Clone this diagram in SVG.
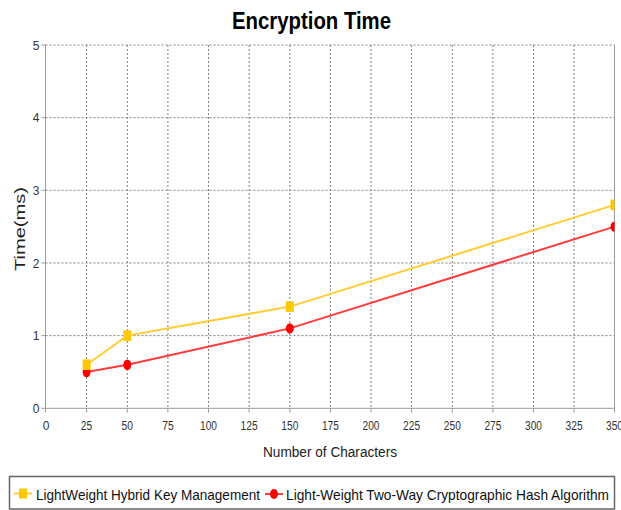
<svg xmlns="http://www.w3.org/2000/svg" width="621" height="510" viewBox="0 0 621 510">
  <style>
    .grid { stroke: #808080; stroke-width: 1; stroke-dasharray: 2 2; fill: none; }
    .axis { stroke: #9a9a9a; stroke-width: 1; fill: none; }
    .tick { font-family: "Liberation Sans", Arial, sans-serif; font-size: 12px; fill: #333; }
    .lbl { font-family: "Liberation Sans", Arial, sans-serif; font-size: 14px; fill: #222; }
    .legend { font-family: "Liberation Sans", Arial, sans-serif; font-size: 15px; fill: #111; }
    .lineY { stroke: #ffcc33; stroke-width: 2; fill: none; }
    .lineR { stroke: #ff3b3b; stroke-width: 2; fill: none; }
    .mkY { fill: #ffc800; }
    .mkR { fill: #ff0000; }
  </style>
  <defs>
    <clipPath id="plotClip">
      <rect x="45.5" y="40" width="569" height="372"/>
    </clipPath>
  </defs>

  <rect x="0" y="0" width="621" height="510" fill="#ffffff"/>

  <!-- title -->
  <text x="311.5" y="28.5" text-anchor="middle" font-family="'Liberation Sans', Arial, sans-serif" font-size="23" font-weight="bold" fill="#000" textLength="159" lengthAdjust="spacingAndGlyphs">Encryption Time</text>

  <!-- grid -->
  <g id="grid">
    <path class="grid" d="M45.5 45H614.5M45.5 117.7H614.5M45.5 190.3H614.5M45.5 263H614.5M45.5 335.6H614.5"/>
    <path class="grid" d="M86.6 45V408M127.3 45V408M167.9 45V408M208.5 45V408M249.1 45V408M289.8 45V408M330.4 45V408M371 45V408M411.6 45V408M452.3 45V408M492.9 45V408M533.5 45V408M574.1 45V408"/>
  </g>

  <!-- axes -->
  <g id="axes">
    <path class="axis" d="M45.5 45V408.3H614.5V45"/>
    <path class="axis" d="M41.5 45H45.5M41.5 117.7H45.5M41.5 190.3H45.5M41.5 263H45.5M41.5 335.6H45.5M41.5 408.3H45.5"/>
    <path class="axis" d="M45.5 408.3V412.5M86.6 408.3V412.5M127.3 408.3V412.5M167.9 408.3V412.5M208.5 408.3V412.5M249.1 408.3V412.5M289.8 408.3V412.5M330.4 408.3V412.5M371 408.3V412.5M411.6 408.3V412.5M452.3 408.3V412.5M492.9 408.3V412.5M533.5 408.3V412.5M574.1 408.3V412.5M614.5 408.3V412.5"/>
    <g class="tick" text-anchor="end">
      <text x="39.5" y="49.5">5</text>
      <text x="39.5" y="122.2">4</text>
      <text x="39.5" y="194.8">3</text>
      <text x="39.5" y="267.5">2</text>
      <text x="39.5" y="340.1">1</text>
      <text x="39.5" y="412.8">0</text>
    </g>
    <g class="tick" text-anchor="middle">
      <text x="46" y="430">0</text>
      <text x="86.6" y="430" textLength="11.5" lengthAdjust="spacingAndGlyphs">25</text>
      <text x="127.3" y="430" textLength="11.5" lengthAdjust="spacingAndGlyphs">50</text>
      <text x="167.9" y="430" textLength="11.5" lengthAdjust="spacingAndGlyphs">75</text>
      <text x="208.5" y="430" textLength="17" lengthAdjust="spacingAndGlyphs">100</text>
      <text x="249.1" y="430" textLength="17" lengthAdjust="spacingAndGlyphs">125</text>
      <text x="289.8" y="430" textLength="17" lengthAdjust="spacingAndGlyphs">150</text>
      <text x="330.4" y="430" textLength="17" lengthAdjust="spacingAndGlyphs">175</text>
      <text x="371" y="430" textLength="17" lengthAdjust="spacingAndGlyphs">200</text>
      <text x="411.6" y="430" textLength="17" lengthAdjust="spacingAndGlyphs">225</text>
      <text x="452.3" y="430" textLength="17" lengthAdjust="spacingAndGlyphs">250</text>
      <text x="492.9" y="430" textLength="17" lengthAdjust="spacingAndGlyphs">275</text>
      <text x="533.5" y="430" textLength="17" lengthAdjust="spacingAndGlyphs">300</text>
      <text x="574.1" y="430" textLength="17" lengthAdjust="spacingAndGlyphs">325</text>
      <text x="614.5" y="430" textLength="17" lengthAdjust="spacingAndGlyphs">350</text>
    </g>
    <text class="lbl" x="330" y="457" text-anchor="middle" textLength="134" lengthAdjust="spacingAndGlyphs">Number of Characters</text>
    <text class="lbl" x="0" y="0" font-size="14" text-anchor="middle" transform="translate(25 229) rotate(-90)" textLength="84" lengthAdjust="spacingAndGlyphs">Time(ms)</text>
  </g>

  <!-- series -->
  <g id="connectors" clip-path="url(#plotClip)">
    <polyline id="series-hash" class="lineR" points="86.6,372 127.3,364.7 289.8,328.4 614.5,226.6"/>
    <polyline id="series-hybrid" class="lineY" points="86.6,364.7 127.3,335.6 289.8,306.6 614.5,204.9"/>
  </g>

  <g id="markers-hash" clip-path="url(#plotClip)">
    <ellipse class="mkR" cx="86.6" cy="372" rx="4" ry="5.2"/>
    <ellipse class="mkR" cx="127.3" cy="364.7" rx="4" ry="5.2"/>
    <ellipse class="mkR" cx="289.8" cy="328.4" rx="4" ry="5.2"/>
    <ellipse class="mkR" cx="614.5" cy="226.6" rx="4" ry="5.2"/>
  </g>
  <g id="markers-hybrid" clip-path="url(#plotClip)">
    <rect class="mkY" x="82.6" y="359.4" width="8" height="10.6"/>
    <rect class="mkY" x="123.3" y="330.3" width="8" height="10.6"/>
    <rect class="mkY" x="285.8" y="301.3" width="8" height="10.6"/>
    <rect class="mkY" x="610.5" y="199.6" width="8" height="10.6"/>
  </g>

  <!-- legend -->
  <g id="legend">
    <rect x="9.5" y="476.5" width="605" height="32.5" fill="#ffffff" stroke="#666" stroke-width="1.5"/>
    <g id="legend-hybrid">
      <path class="lineY" d="M14 493.5H32"/>
      <rect class="mkY" x="19" y="488.5" width="8" height="10"/>
      <text class="legend" x="36" y="499.5" textLength="224" lengthAdjust="spacingAndGlyphs">LightWeight Hybrid Key Management</text>
    </g>
    <g id="legend-hash">
      <path class="lineR" d="M265 494H283"/>
      <ellipse class="mkR" cx="274" cy="494" rx="4" ry="5"/>
      <text class="legend" x="286" y="499.5" textLength="323" lengthAdjust="spacingAndGlyphs">Light-Weight Two-Way Cryptographic Hash Algorithm</text>
    </g>
  </g>
</svg>
